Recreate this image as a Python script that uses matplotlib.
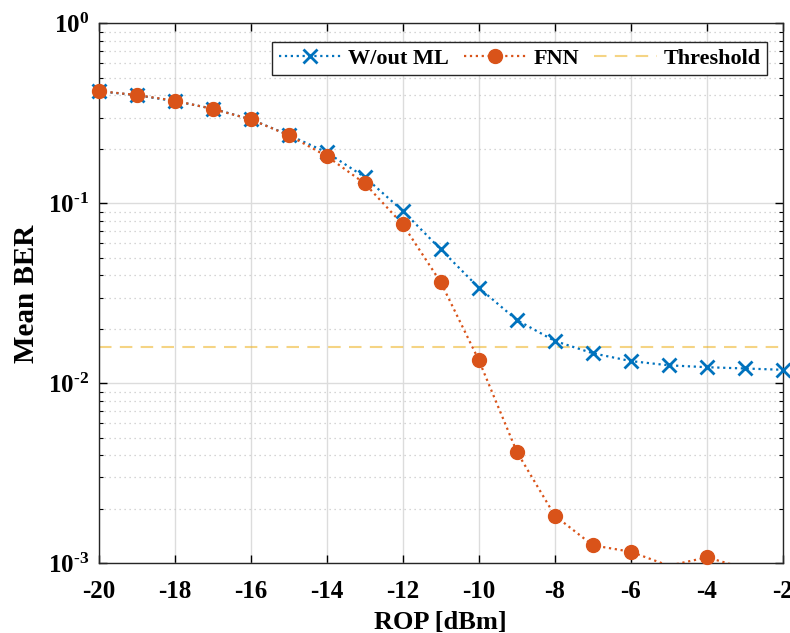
import numpy as np
import matplotlib
matplotlib.use('Agg')
import matplotlib.pyplot as plt
from matplotlib.lines import Line2D
from matplotlib.ticker import LogLocator, NullFormatter, FixedLocator, FixedFormatter

# received optical power [dBm]
rop = [-20, -19, -18, -17, -16, -15, -14, -13, -12, -11, -10, -9, -8, -7, -6, -5, -4, -3, -2]

# mean BER without ML
ber_noml = [0.420, 0.399, 0.370, 0.336, 0.293, 0.240, 0.192, 0.140, 0.0908, 0.0555, 0.0340,
            0.0225, 0.0172, 0.0147, 0.0133, 0.0126, 0.0123, 0.0121, 0.0119]

# mean BER with FNN
ber_fnn = [0.421, 0.400, 0.372, 0.335, 0.293, 0.239, 0.183, 0.129, 0.0764, 0.0364, 0.01346,
           0.00417, 0.00184, 0.00126, 0.00116, 0.00097, 0.00108, 0.00094, 0.00085]

threshold = 0.0159

xticks = [-20, -18, -16, -14, -12, -10, -8, -6, -4, -2]
yticks = [1e-3, 1e-2, 1e-1, 1e0]
ytick_labels = ['10$^{\\text{-3}}$', '10$^{\\text{-2}}$', '10$^{\\text{-1}}$', '10$^{\\text{0}}$']

c_blue = '#0072BD'
c_orange = '#D95319'
c_yellow = '#EDB120'

plt.rcParams['font.family'] = ['Liberation Serif', 'DejaVu Serif']
plt.rcParams['font.weight'] = 'bold'
plt.rcParams['mathtext.fontset'] = 'custom'
plt.rcParams['mathtext.rm'] = 'Liberation Serif:bold'
plt.rcParams['mathtext.default'] = 'rm'

fig = plt.figure(figsize=(7.9, 6.33), dpi=100)
ax = fig.add_axes([0.125, 0.110, 0.866, 0.853])
ax.set_yscale('log')
ax.set_xlim(-20, -2)
ax.set_ylim(1e-3, 1)

# lines are clipped to the axes, markers only drawn for points inside the limits (like MATLAB)
def plot_series(y, color, marker, ms, mew, z):
    x = np.array(rop)
    y = np.array(y)
    ax.plot(x, y, ':', color=color, lw=1.6, zorder=z)
    inside = (y >= 1e-3) & (y <= 1)
    ax.plot(x[inside], y[inside], ls='none', color=color, marker=marker, ms=ms, mew=mew,
            clip_on=False, zorder=z + 0.5)

plot_series(ber_noml, c_blue, 'x', 10, 2, 3)
plot_series(ber_fnn, c_orange, 'o', 10, 1, 4)
ax.axhline(threshold, ls=(0, (6, 4)), color=c_yellow, alpha=0.55, lw=1.5)

ax.set_xticks(xticks)
ax.set_xticklabels([str(t) for t in xticks])
ax.yaxis.set_major_locator(FixedLocator(yticks))
ax.yaxis.set_major_formatter(FixedFormatter(ytick_labels))
ax.yaxis.set_minor_locator(LogLocator(base=10, subs=np.arange(2, 10), numticks=20))
ax.yaxis.set_minor_formatter(NullFormatter())

ax.grid(True, which='major', color='#dcdcdc', lw=1.0, ls='-')
ax.grid(True, which='minor', axis='y', color='#c8c8c8', lw=0.9, ls=(0, (1, 3)))
ax.set_axisbelow(True)

ax.tick_params(which='both', direction='in', top=True, right=True, labelsize=18)
ax.tick_params(axis='x', which='major', pad=12)
ax.tick_params(axis='y', which='major', pad=7)
ax.tick_params(which='major', length=6, width=1)
ax.tick_params(which='minor', length=3, width=0.8)
for s in ax.spines.values():
    s.set_color('#262626')
    s.set_linewidth(1.0)

ax.set_xlabel('ROP [dBm]', fontsize=19, fontweight='bold', labelpad=6)
ax.set_ylabel('Mean BER', fontsize=21, fontweight='bold', labelpad=6)

handles = [
    Line2D([], [], ls=':', lw=1.6, color=c_blue, marker='x', ms=10, mew=2),
    Line2D([], [], ls=':', lw=1.6, color=c_orange, marker='o', ms=10),
    Line2D([], [], ls=(0, (6, 4)), lw=1.5, color=c_yellow, alpha=0.55),
]
leg = ax.legend(handles, ['W/out ML', 'FNN', 'Threshold'], loc='upper right', ncol=3,
                fontsize=16, frameon=True, fancybox=False, edgecolor='#262626', framealpha=1,
                handlelength=2.8, columnspacing=0.7, handletextpad=0.3, borderpad=0.3,
                bbox_to_anchor=(0.993, 0.987))
leg.get_frame().set_linewidth(1.0)

fig.savefig('out.png', dpi=100)
